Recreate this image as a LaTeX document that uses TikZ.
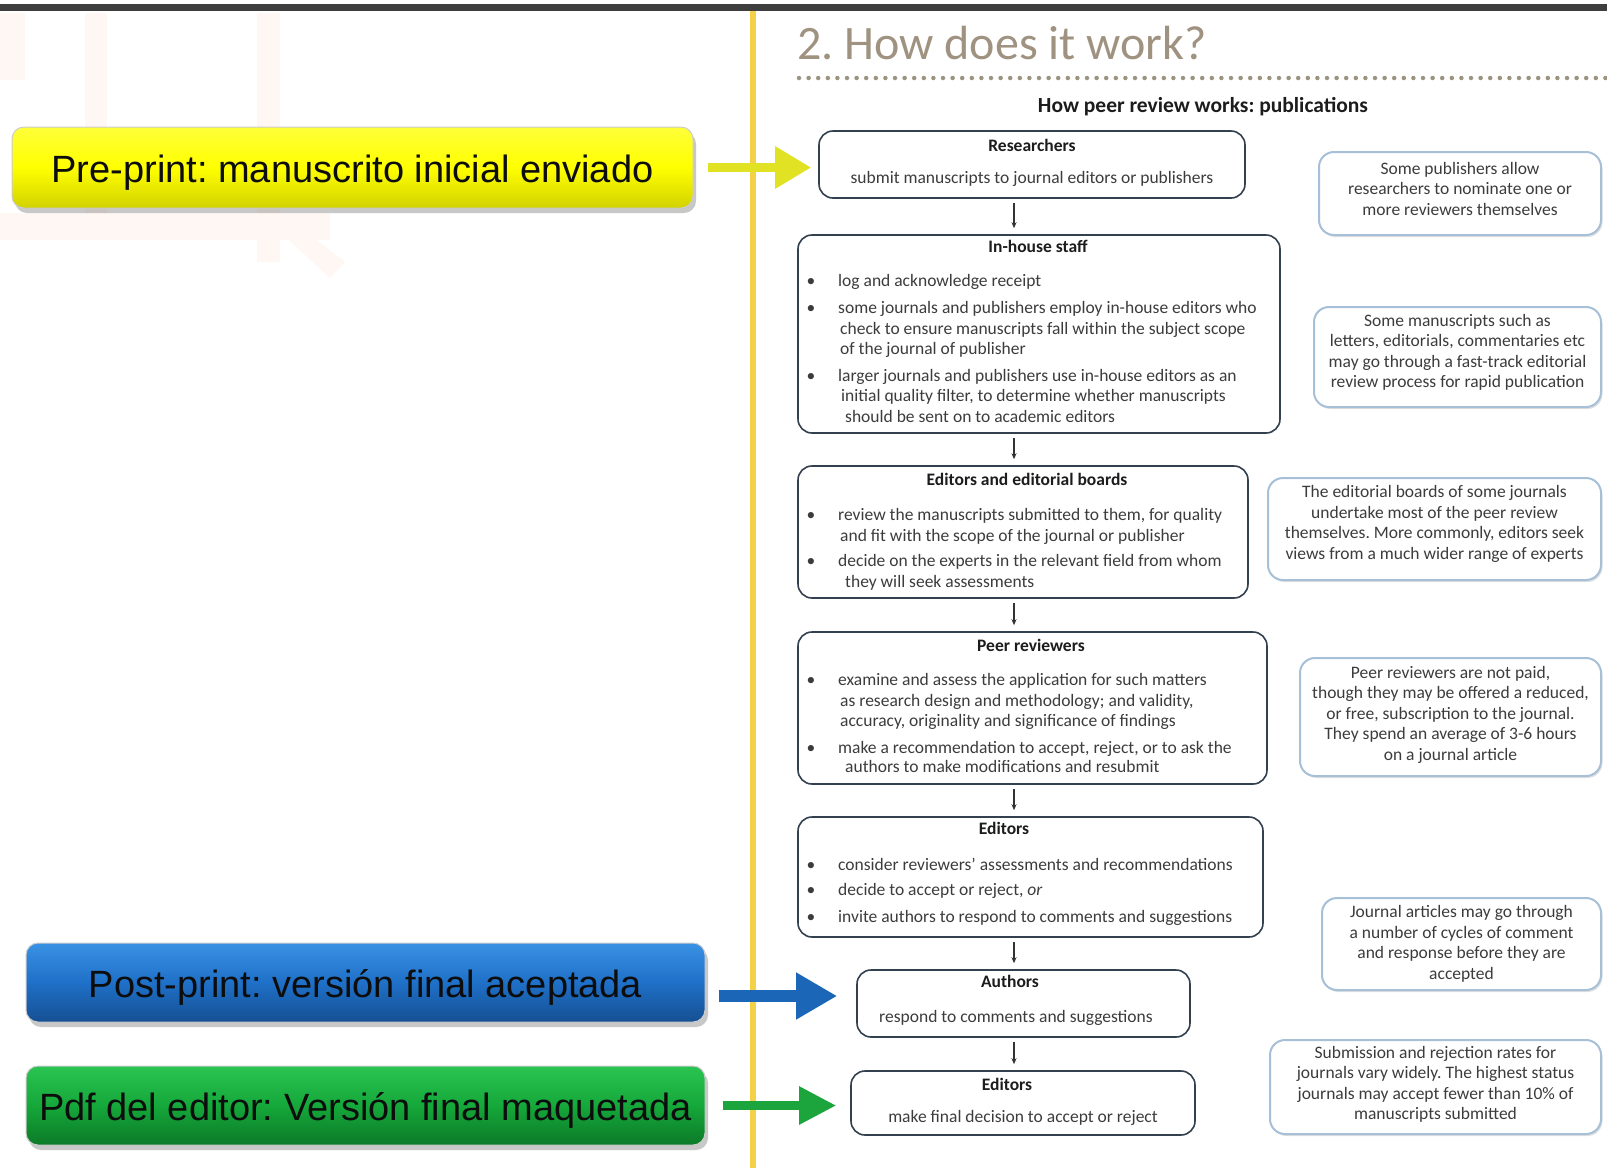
\documentclass[tikz,border=0pt]{standalone}
\usepackage{fontspec}
\setmainfont{Carlito}
\newfontfamily\arialf{Liberation Sans}
\usetikzlibrary{arrows.meta,shadows,calc}
\definecolor{cTxt}{HTML}{3C3C3C}
\definecolor{cTtl}{HTML}{1C1C1C}
\definecolor{cFlow}{HTML}{33404F}
\definecolor{cNote}{HTML}{A6C0D8}
\definecolor{cTitle}{HTML}{A09280}
\definecolor{cDot}{HTML}{9C9480}
\definecolor{cVline}{HTML}{F4D148}
\definecolor{cTopbar}{HTML}{3E3E3E}
\definecolor{cWm}{HTML}{FEF7F3}
\definecolor{yTop}{HTML}{FFFF3A}
\definecolor{yMid}{HTML}{FFFF00}
\definecolor{yBot}{HTML}{D2D200}
\definecolor{bTop}{HTML}{3A92E4}
\definecolor{bMid}{HTML}{1F70C8}
\definecolor{bBot}{HTML}{154F92}
\definecolor{gTop}{HTML}{2AC452}
\definecolor{gMid}{HTML}{15A83A}
\definecolor{gBot}{HTML}{0C7A28}
\definecolor{yArr}{HTML}{E2E224}
\definecolor{bArr}{HTML}{1C66B8}
\definecolor{gArr}{HTML}{1BA53C}
\definecolor{cArr}{HTML}{333333}
\newcommand\bfsz{\fontsize{17.5}{20.5}\selectfont}
\frenchspacing
\begin{document}
\begin{tikzpicture}[x=1pt,y=-1pt,
  lbox/.style={rounded corners=12pt, inner sep=0pt, draw=white!80!black, line width=1pt,
    font=\arialf\fontsize{38}{44}\selectfont\frenchspacing, text=black!95, text height=33pt, text depth=3pt,
    drop shadow={shadow xshift=3pt, shadow yshift=-5pt, opacity=0.3, fill=black!70}},
  yfill/.style={top color=yTop, bottom color=yBot, middle color=yMid},
  bfill/.style={top color=bTop, bottom color=bBot, middle color=bMid},
  gfill/.style={top color=gTop, bottom color=gBot, middle color=gMid},
  flowbox/.style={draw=cFlow, line width=1.6pt, rounded corners=14pt, fill=white, inner sep=0pt},
  notebox/.style={draw=cNote, line width=2pt, rounded corners=15pt, fill=white, inner sep=0pt,
    drop shadow={shadow xshift=1.5pt, shadow yshift=-2pt, opacity=0.12, fill=black}},
  ttlt/.style={font=\bfsz\bfseries, text=cTtl, inner sep=0pt, anchor=base},
  bodyl/.style={font=\bfsz, text=cTxt, inner sep=0pt, anchor=base west},
  bodyc/.style={font=\bfsz, text=cTxt, inner sep=0pt, anchor=base},
  bul/.style={font=\bfsz, text=cTxt, inner sep=0pt, anchor=base},
  notetxt/.style={font=\bfsz\frenchspacing, text=cTxt, inner sep=0pt, align=center},
  flowarr/.style={draw=cArr, line width=1.1pt, -{Stealth[length=6pt,width=5pt]}, shorten <=4pt, shorten >=6pt},
]
\useasboundingbox (0,0) rectangle (1607,1168);
\fill[white] (0,0) rectangle (1607,1168);
% faint watermark
\fill[cWm] (0,13) rectangle (25,80);
\fill[cWm] (85,13) rectangle (107,235);
\fill[cWm] (257,13) rectangle (280,262);
\fill[cWm] (0,213) rectangle (330,240);
\fill[cWm] (262,215) -- (282,213) -- (345,262) -- (330,278) -- cycle;
% top bar and yellow vertical line
\fill[cTopbar] (0,4) rectangle (1607,11);
\fill[cVline] (750,11) rectangle (756,1168);
% title
\node[font=\fontsize{48}{52}\selectfont, text=cTitle, inner sep=0pt, anchor=base west] (title) at (797,59.5) {2. How does it work?};
\draw[draw=cDot, line width=4.5pt, line cap=round, dash pattern=on 0pt off 9.6pt] (799,78) -- (1607,78);
\node[font=\fontsize{21.5}{24}\selectfont\bfseries, text=cTtl, inner sep=0pt, anchor=base] (sub) at (1203,112) {How peer review works: publications};

% left boxes
\node[lbox, yfill, minimum width=681, minimum height=81] (pre) at (352.5,167.5) {Pre-print: manuscrito inicial enviado};
\node[lbox, bfill, minimum width=679, minimum height=79] (post) at (365.5,982.5) {Post-print: versión final aceptada};
\node[lbox, gfill, minimum width=679, minimum height=79] (pdf) at (365.5,1105.5) {Pdf del editor: Versión final maquetada};

% flow boxes
\node[flowbox, minimum width=426, minimum height=67] (b1) at (1032,164.5) {};
\node[ttlt] (b1t) at (1032,151) {Researchers};
\node[bodyc] (b1a) at (1032,183) {submit manuscripts to journal editors or publishers};

\node[flowbox, minimum width=482, minimum height=198] (b2) at (1039,334) {};
\node[ttlt] (b2t) at (1038,252) {In-house staff};
\node[bul] (b2u1) at (811,286) {\textbullet};
\node[bul] (b2u2) at (811,313) {\textbullet};
\node[bul] (b2u3) at (811,381) {\textbullet};
\node[bodyl] (b2a) at (838,286) {log and acknowledge receipt};
\node[bodyl] (b2b) at (838,313) {some journals and publishers employ in-house editors who};
\node[bodyl] (b2c) at (840,334) {check to ensure manuscripts fall within the subject scope};
\node[bodyl] (b2d) at (840,354) {of the journal of publisher};
\node[bodyl] (b2e) at (838,381) {larger journals and publishers use in-house editors as an};
\node[bodyl] (b2f) at (841,401.5) {initial quality filter, to determine whether manuscripts};
\node[bodyl] (b2g) at (845,422) {should be sent on to academic editors};

\node[flowbox, minimum width=450, minimum height=132] (b3) at (1023,532) {};
\node[ttlt] (b3t) at (1027,485) {Editors and editorial boards};
\node[bul] (b3u1) at (811,520.5) {\textbullet};
\node[bul] (b3u2) at (811,566.5) {\textbullet};
\node[bodyl] (b3a) at (838,520.5) {review the manuscripts submitted to them, for quality};
\node[bodyl] (b3b) at (840,541) {and fit with the scope of the journal or publisher};
\node[bodyl] (b3c) at (838,566.5) {decide on the experts in the relevant field from whom};
\node[bodyl] (b3d) at (845,587) {they will seek assessments};

\node[flowbox, minimum width=469, minimum height=152] (b4) at (1032.5,708) {};
\node[ttlt] (b4t) at (1031,651) {Peer reviewers};
\node[bul] (b4u1) at (811,685.5) {\textbullet};
\node[bul] (b4u2) at (811,753) {\textbullet};
\node[bodyl] (b4a) at (838,685.5) {examine and assess the application for such matters};
\node[bodyl] (b4b) at (840,706) {as research design and methodology; and validity,};
\node[bodyl] (b4c) at (840,726.5) {accuracy, originality and significance of findings};
\node[bodyl] (b4d) at (838,753) {make a recommendation to accept, reject, or to ask the};
\node[bodyl] (b4e) at (845,772.6) {authors to make modifications and resubmit};

\node[flowbox, minimum width=465, minimum height=120] (b5) at (1030.5,877) {};
\node[ttlt] (b5t) at (1004,834.5) {Editors};
\node[bul] (b5u1) at (811,870) {\textbullet};
\node[bul] (b5u2) at (811,895.6) {\textbullet};
\node[bul] (b5u3) at (811,922) {\textbullet};
\node[bodyl] (b5a) at (838,870) {consider reviewers’ assessments and recommendations};
\node[bodyl] (b5b) at (838,895.6) {decide to accept or reject, \textit{or}};
\node[bodyl] (b5c) at (838,922) {invite authors to respond to comments and suggestions};

\node[flowbox, minimum width=333, minimum height=67] (b6) at (1023.5,1003.5) {};
\node[ttlt] (b6t) at (1010,987.5) {Authors};
\node[bodyc] (b6a) at (1016,1022) {respond to comments and suggestions};

\node[flowbox, minimum width=344, minimum height=64] (b7) at (1023,1103) {};
\node[ttlt] (b7t) at (1007,1090) {Editors};
\node[bodyc] (b7a) at (1023,1122) {make final decision to accept or reject};

% flow arrows
\coordinate (ax) at (1014,0);
\foreach \a/\b in {b1/b2,b2/b3,b3/b4,b4/b5,b5/b6,b6/b7}
  \draw[flowarr] (\a.south -| ax) -- (\b.north -| ax);

% notes
\node[notebox, minimum width=282, minimum height=83] (n1) at (1460,193.5) {};
\node[notetxt] (n1t) at (1460,188.6) {Some publishers allow\\researchers to nominate one or\\more reviewers themselves};
\node[notebox, minimum width=287, minimum height=100] (n2) at (1457.5,357) {};
\node[notetxt] (n2t) at (1457.5,352.5) {Some manuscripts such as\\letters, editorials, commentaries etc\\may go through a fast-track editorial\\review process for rapid publication};
\node[notebox, minimum width=333, minimum height=102] (n3) at (1434.5,529) {};
\node[notetxt] (n3t) at (1434.5,523.8) {The editorial boards of some journals\\undertake most of the peer review\\themselves. More commonly, editors seek\\views from a much wider range of experts};
\node[notebox, minimum width=301, minimum height=118] (n4) at (1450.5,717) {};
\node[notetxt] (n4t) at (1450.5,714.5) {Peer reviewers are not paid,\\though they may be offered a reduced,\\or free, subscription to the journal.\\They spend an average of 3-6 hours\\on a journal article};
\node[notebox, minimum width=279, minimum height=92] (n5) at (1461.5,944) {};
\node[notetxt] (n5t) at (1461.5,944) {Journal articles may go through\\a number of cycles of comment\\and response before they are\\accepted};
\node[notebox, minimum width=331, minimum height=94] (n6) at (1435.5,1087) {};
\node[notetxt] (n6t) at (1435.5,1084.3) {Submission and rejection rates for\\journals vary widely. The highest status\\journals may accept fewer than 10\% of\\manuscripts submitted};

% fat arrows
\draw[draw=yArr, line width=9pt, -{Triangle[length=36pt,width=40pt]}, shorten <=14pt, shorten >=7pt]
  (pre.east) -- (pre.east -| b1.west);
\coordinate (pa) at ([yshift=-13.5pt]post.east);
\draw[draw=bArr, line width=12pt, -{Triangle[length=41pt,width=44pt]}, shorten <=13pt, shorten >=19pt]
  (pa) -- (pa -| b6.west);
\draw[draw=gArr, line width=8.5pt, -{Triangle[length=37pt,width=36pt]}, shorten <=17pt, shorten >=14pt]
  (pdf.east) -- (pdf.east -| b7.west);
\end{tikzpicture}
\end{document}
